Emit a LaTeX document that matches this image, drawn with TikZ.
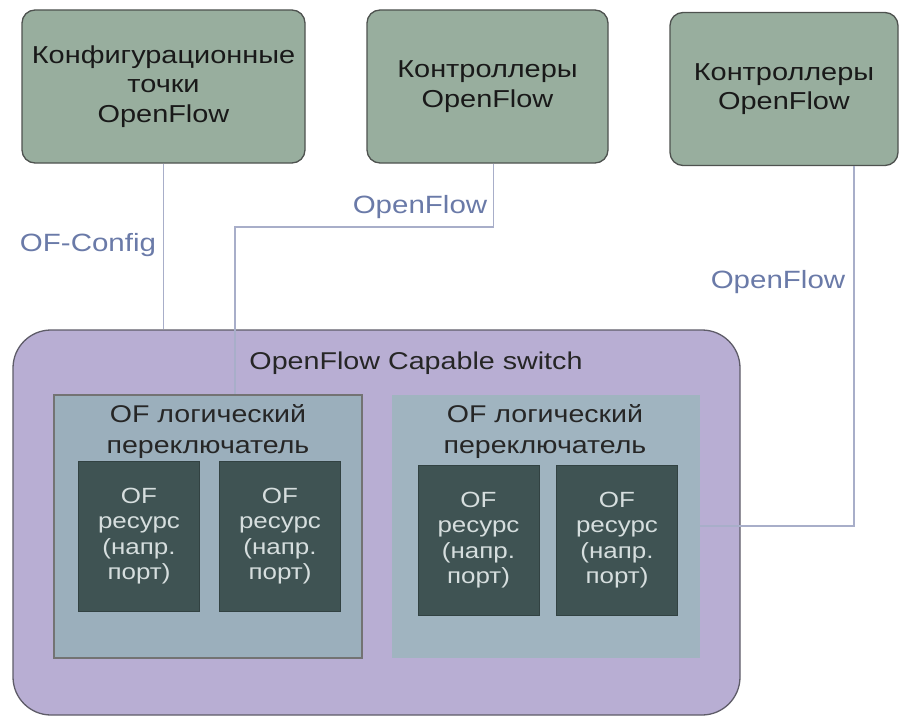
\documentclass[tikz,border=0pt]{standalone}
\usepackage{fontspec}
\setmainfont[FakeStretch=1.18]{Liberation Sans}

\definecolor{ctrlfill}{HTML}{98AE9E}
\definecolor{ctrldraw}{HTML}{4E524F}
\definecolor{swfill}{HTML}{B8AED3}
\definecolor{swdraw}{HTML}{5E5C68}
\definecolor{lsfill}{HTML}{9BAFBC}
\definecolor{lsfillb}{HTML}{A0B4C0}
\definecolor{resfill}{HTML}{3F5353}
\definecolor{restext}{HTML}{D6DEDE}
\definecolor{linkcol}{HTML}{A8AEC9}
\definecolor{lblcol}{HTML}{6A7AA8}

\begin{document}
\begin{tikzpicture}[x=1pt, y=-1pt,
        ctrl/.style={draw=ctrldraw, fill=ctrlfill, line width=1.3pt, rounded corners=13pt,
                minimum height=153pt, align=center, text=black!90,
                font=\fontsize{24.5}{29.5}\selectfont},
        lsbox/.style={minimum width=308pt, minimum height=263pt},
        lstitle/.style={align=center, text=black!85, font=\fontsize{24.2}{31}\selectfont},
        res/.style={fill=resfill, draw=resfill!80!black, minimum width=121pt, minimum height=150pt,
                align=center, text=restext, font=\fontsize{22}{25.5}\selectfont},
        link/.style={draw=linkcol, line width=1.3pt},
        lbl/.style={text=lblcol, font=\fontsize{25}{30}\selectfont}]
    \useasboundingbox (0,0) rectangle (900,717);

    % top boxes
    \node[ctrl, minimum width=283pt] (cfg) at (163.5,86.5) {Конфигурационные\\точки\\OpenFlow};
    \node[ctrl, minimum width=241pt] (ctlA) at (487.5,86.5) {Контроллеры\\OpenFlow};
    \node[ctrl, minimum width=228pt] (ctlB) at (784,89) {Контроллеры\\OpenFlow};

    % switch
    \node[draw=swdraw, fill=swfill, line width=1.3pt, rounded corners=38pt,
        minimum width=727pt, minimum height=385pt] (sw) at (376.5,522.5) {};
    \node[text=black!85, font=\fontsize{24.3}{30}\selectfont] (swtitle) at (416,363) {OpenFlow Capable switch};

    % logical switches
    \node[lsbox, fill=lsfill, draw=black!55, line width=1.3pt] (lsL) at (208,526.5) {};
    \node[lsbox, fill=lsfillb] (lsR) at (545.5,526) {};
    \node[lstitle] (lsLtitle) at (208,432) {OF логический\\переключатель};
    \node[lstitle] (lsRtitle) at (545,432) {OF логический\\переключатель};

    % resources
    \foreach \n/\x/\y in {resA/139/536, resB/280/536, resC/478.5/540, resD/617/540} {
            \node[res] (\n) at (\x,\y) {OF\\ресурс\\(напр.\\порт)};
        }

    % connectors
    \coordinate (bendA) at (235,227);
    \coordinate (bendB) at (854,526);
    \draw[link] (cfg.south) -- (cfg.south |- sw.north);
    \draw[link] ([xshift=6pt]ctlA.south) |- (bendA) -- (bendA |- lsL.north);
    \draw[link] (ctlB.south -| bendB) -- (bendB) -- (lsR.east);

    % labels
    \node[lbl] (lblCfg) at (88,245) {OF-Config};
    \node[lbl] (lblOfA) at (420,207) {OpenFlow};
    \node[lbl] (lblOfB) at (778,282) {OpenFlow};
\end{tikzpicture}
\end{document}
